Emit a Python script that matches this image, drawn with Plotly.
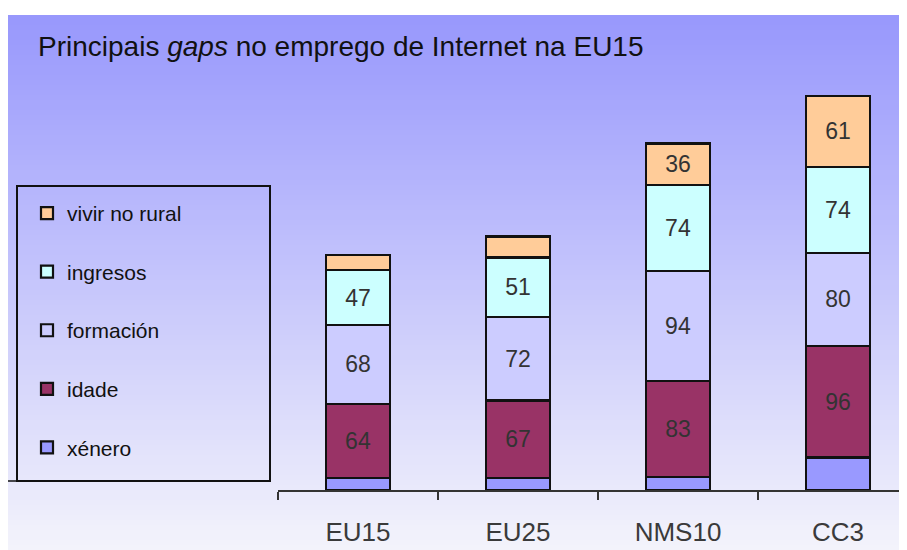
import plotly.graph_objects as go

# --- data ---
categories = ["EU15", "EU25", "NMS10", "CC3"]
xenero = [10, 10, 11, 28]
idade = [64, 67, 83, 96]
formacion = [68, 72, 94, 80]
ingresos = [47, 51, 74, 74]
rural = [13, 18, 36, 61]

series = [
    ("xénero", xenero, "#9999FF"),
    ("idade", idade, "#993366"),
    ("formación", formacion, "#CCCCFF"),
    ("ingresos", ingresos, "#CCFFFF"),
    ("vivir no rural", rural, "#FFCC99"),
]

# the page body adds an 8px margin, so layout positions are given in
# screen pixels and shifted back by OFF
OFF = 8
W, H = 907, 550
ML, MR, MT, MB = 278 - OFF, 0, 10, H - (490 - OFF)
PW, PH = W - ML - MR, H - MT - MB
PX_PER_UNIT = 1.163
CAT_W = 160


def px_x(px):
    return (px - OFF - ML) / PW


def px_y(py):
    return (H - MB - (py - OFF)) / PH


fig = go.Figure()

for i, (name, vals, color) in enumerate(series):
    labels = [str(v) if v >= 30 else "" for v in vals]
    fig.add_trace(go.Bar(
        x=categories, y=vals, name=name,
        text=labels, texttemplate="%{text}",
        textposition="inside", insidetextanchor="middle",
        constraintext="none", textangle=0,
        textfont=dict(family="Liberation Sans, Arial", size=23, color="#333333"),
        marker=dict(color=color, line=dict(color="#111111", width=2.2)),
        width=0.4, legendgroup=name, legendrank=len(series) - i,
        hoverinfo="skip",
    ))

# gradient background, drawn as thin strips
shapes = []
top, bottom = 15, H + OFF + 4
c0 = (152, 152, 252)
c1 = (246, 246, 251)
step = 5
for py in range(top, bottom, step):
    t = (py - top) / (bottom - top)
    c = tuple(round(a + (b - a) * t) for a, b in zip(c0, c1))
    shapes.append(dict(
        type="rect", xref="paper", yref="paper", layer="below",
        x0=px_x(OFF), x1=px_x(W + OFF), y0=px_y(py), y1=px_y(min(py + step + 1, bottom)),
        fillcolor="rgb(%d,%d,%d)" % c, line=dict(width=0),
    ))

# legend box
shapes.append(dict(
    type="rect", xref="paper", yref="paper",
    x0=px_x(17), x1=px_x(270), y0=px_y(481), y1=px_y(186),
    line=dict(color="#111111", width=2), fillcolor="rgba(0,0,0,0)",
))
shapes.append(dict(
    type="line", xref="paper", yref="paper",
    x0=px_x(8), x1=px_x(17), y0=px_y(481), y1=px_y(481),
    line=dict(color="#111111", width=1.5),
))

fig.update_layout(
    width=W, height=H,
    margin=dict(l=ML, r=MR, t=MT, b=MB, autoexpand=False),
    paper_bgcolor="white",
    plot_bgcolor="rgba(0,0,0,0)",
    barmode="stack",
    shapes=shapes,
    title=dict(
        text="Principais <i>gaps</i> no emprego de Internet na EU15",
        x=(38 - OFF) / W, xanchor="left", xref="container",
        y=1 - (46 - OFF) / H, yanchor="middle", yref="container",
        font=dict(family="Liberation Sans, Arial", size=28, color="#111111"),
    ),
    legend=dict(
        x=px_x(27), xanchor="left", y=px_y(193), yanchor="top",
        traceorder="grouped", tracegroupgap=28.25,
        bgcolor="rgba(0,0,0,0)", borderwidth=0,
        font=dict(family="Liberation Sans, Arial", size=21, color="#111111"),
    ),
    showlegend=True,
)

fig.update_xaxes(
    type="category", range=[-0.5, -0.5 + PW / CAT_W],
    tickson="boundaries", ticks="outside", ticklen=8, tickwidth=1.5,
    tickcolor="#333333", showline=True, linecolor="#333333", linewidth=1.5,
    showgrid=False, zeroline=False,
    tickfont=dict(family="Liberation Sans, Arial", size=26, color="#3a3a3a"),
    ticklabelstandoff=18,
)
fig.update_yaxes(
    visible=False, range=[0, PH / PX_PER_UNIT],
    showgrid=False, zeroline=False,
)

fig.write_html("out.html")
